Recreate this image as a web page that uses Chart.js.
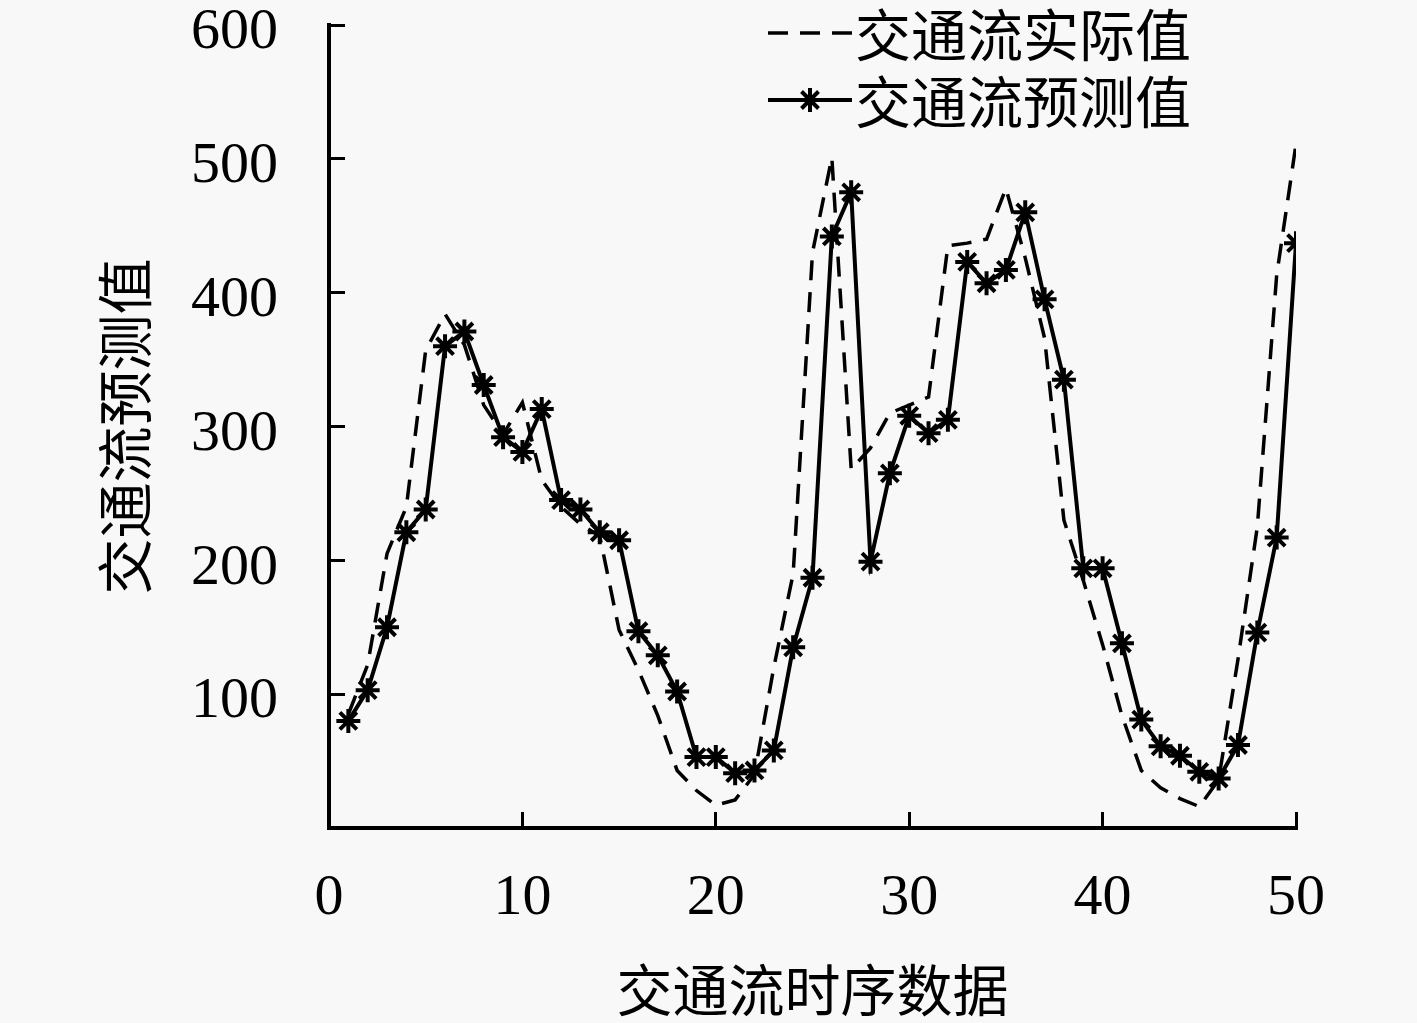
<!DOCTYPE html>
<html>
<head>
<meta charset="utf-8">
<script src="https://cdn.jsdelivr.net/npm/chart.js@4.4.0/dist/chart.umd.min.js"></script>
<style>
  html, body { margin: 0; padding: 0; background: #f8f8f8; }
  #wrap { width: 1417px; height: 1023px; }
</style>
</head>
<body>
<div id="wrap"><canvas id="flowChart"></canvas></div>
<script>
/* --------------- Data --------------------- */
const steps = [1, 2, 3, 4, 5, 6, 7, 8, 9, 10, 11, 12, 13, 14, 15, 16, 17, 18, 19, 20,
  21, 22, 23, 24, 25, 26, 27, 28, 29, 30, 31, 32, 33, 34, 35, 36, 37, 38, 39, 40,
  41, 42, 43, 44, 45, 46, 47, 48, 49, 50];
const actualFlow = [85, 122, 205, 240, 357, 384, 361, 316, 294, 318, 260, 240, 227, 218, 148,
  118, 84, 43, 28, 17, 21, 40, 120, 190, 430, 501, 268, 284, 310, 316, 322, 435, 437, 440,
  478, 426, 366, 230, 185, 137, 84, 43, 30, 22, 16, 36, 126, 225, 413, 511];
const predictedFlow = [80, 103, 150, 221, 238, 360, 371, 331, 292, 281, 313, 245, 238, 221, 215,
  147, 129, 102, 53, 53, 41, 43, 58, 135, 187, 442, 475, 199, 265, 308, 295, 305, 423, 407,
  417, 460, 395, 335, 194, 194, 138, 81, 61, 54, 42, 37, 62, 146, 217, 437];
const xTicks = [0, 10, 20, 30, 40, 50];
const yTicks = [100, 200, 300, 400, 500, 600];
const seriesNames = ['交通流实际值', '交通流预测值'];
const xTitle = '交通流时序数据';
const yTitle = '交通流预测值';

/* --------------- Fonts --------------------- */
const numFont = { family: "'Liberation Serif', 'DejaVu Serif', serif", size: 58 };
const cjkFont = { family: "'Noto Sans CJK SC', sans-serif", size: 56, weight: 'normal' };

const toPoints = (vals) => vals.map((v, i) => ({ x: steps[i], y: v }));

/* --------------- Legend drawn in the top right --------------------- */
const legendBox = {
  id: 'legendBox',
  afterDraw(chart) {
    const ctx = chart.ctx;
    const rows = [33, 100];
    ctx.save();
    chart.data.datasets.forEach((ds, i) => {
      const y = rows[i];
      ctx.strokeStyle = '#000';
      ctx.lineWidth = ds.borderWidth;
      ctx.setLineDash(ds.borderDash || []);
      ctx.beginPath();
      ctx.moveTo(768, y);
      ctx.lineTo(852, y);
      ctx.stroke();
      ctx.setLineDash([]);
      if (ds.pointRadius > 0) {
        const r = ds.pointRadius;
        ctx.lineWidth = ds.pointBorderWidth;
        ctx.beginPath();
        for (let k = 0; k < 4; k++) {
          const a = k * Math.PI / 4;
          ctx.moveTo(810 - r * Math.cos(a), y - r * Math.sin(a));
          ctx.lineTo(810 + r * Math.cos(a), y + r * Math.sin(a));
        }
        ctx.stroke();
      }
      ctx.fillStyle = '#000';
      ctx.font = `${cjkFont.size}px ${cjkFont.family}`;
      ctx.textAlign = 'left';
      ctx.textBaseline = 'middle';
      ctx.fillText(ds.label, 855, y + 2);
    });
    ctx.restore();
  },
};

new Chart(document.getElementById('flowChart'), {
  type: 'line',
  plugins: [legendBox],
  data: {
    datasets: [
      {
        label: seriesNames[0],
        data: toPoints(actualFlow),
        borderColor: '#000',
        borderWidth: 3.5,
        borderDash: [20, 12],
        pointRadius: 0,
        tension: 0,
        order: 1,
      },
      {
        label: seriesNames[1],
        data: toPoints(predictedFlow),
        borderColor: '#000',
        backgroundColor: '#000',
        borderWidth: 4,
        pointStyle: 'star',
        pointRadius: 12,
        pointBorderWidth: 4,
        pointBorderColor: '#000',
        tension: 0,
        order: 0,
      },
    ],
  },
  options: {
    responsive: true,
    maintainAspectRatio: false,
    devicePixelRatio: 1,
    animation: false,
    layout: { padding: { top: 25, right: 121, bottom: 0, left: 0 } },
    plugins: {
      legend: { display: false },
      tooltip: { enabled: false },
    },
    scales: {
      x: {
        type: 'linear',
        min: 0,
        max: 50,
        afterBuildTicks: (scale) => { scale.ticks = xTicks.map((v) => ({ value: v })); },
        afterFit: (scale) => { scale.height = 195; scale.paddingLeft = 0; scale.paddingRight = 0; },
        border: { display: true, color: '#000', width: 4 },
        grid: { display: true, drawOnChartArea: false, drawTicks: true, tickLength: -16, color: '#000', lineWidth: 3 },
        ticks: { color: '#000', font: numFont, padding: 52, maxRotation: 0, autoSkip: false },
        title: { display: true, text: xTitle, color: '#000', font: cjkFont, padding: { top: 0, bottom: 0 } },
      },
      y: {
        type: 'linear',
        min: 0,
        max: 600,
        afterBuildTicks: (scale) => { scale.ticks = yTicks.map((v) => ({ value: v })); },
        afterFit: (scale) => { scale.width = 329; scale.paddingTop = 0; scale.paddingBottom = 0; },
        border: { display: true, color: '#000', width: 4 },
        grid: { display: true, drawOnChartArea: false, drawTicks: true, tickLength: -16, color: '#000', lineWidth: 3 },
        ticks: { color: '#000', font: numFont, padding: 67, labelOffset: 8, autoSkip: false },
        title: { display: true, text: yTitle, color: '#000', font: cjkFont, padding: { top: 91, bottom: 0 } },
      },
    },
  },
});
</script>
</body>
</html>
